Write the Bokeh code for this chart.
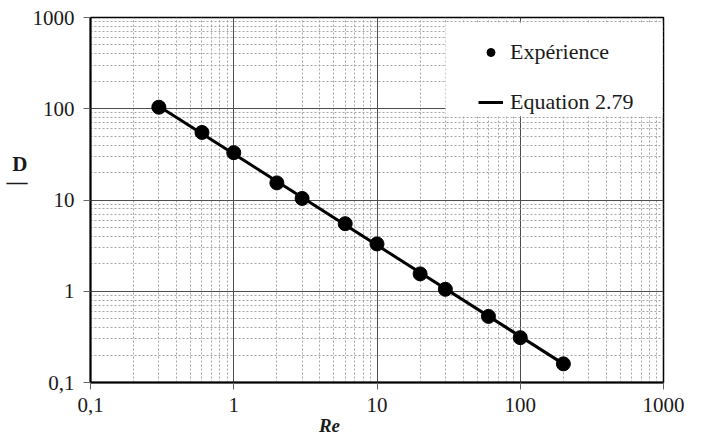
from bokeh.plotting import figure
from bokeh.models import FixedTicker, Legend, LegendItem, BoxAnnotation
from bokeh.embed import file_html
from bokeh.resources import INLINE

# data
re_exp = [0.3, 0.6, 1, 2, 3, 6, 10, 20, 30, 60, 100, 200]
cd_exp = [104, 55, 33, 15.4, 10.4, 5.5, 3.3, 1.55, 1.05, 0.53, 0.31, 0.16]
re_eq = [0.3, 200]
cd_eq = [106.7, 0.16]
x_ticks = [0.1, 1, 10, 100, 1000]
x_tick_labels = ["0,1", "1", "10", "100", "1000"]
y_ticks = [0.1, 1, 10, 100, 1000]
y_tick_labels = ["0,1", "1", "10", "100", "1000"]

FONT = "Liberation Serif"
TXT = "#1a1a1a"
NB = "\u00a0"

p = figure(width=702, height=438, x_axis_type="log", y_axis_type="log",
           x_range=(0.1, 1000), y_range=(0.1, 1000),
           output_backend="svg", toolbar_location=None,
           min_border_left=90, min_border_right=39, min_border_top=17, min_border_bottom=55)
p.outline_line_color = "black"
p.outline_line_width = 1.5
p.background_fill_color = "white"
p.border_fill_color = "white"

for ax, ticks, labels in ((p.xaxis[0], x_ticks, x_tick_labels), (p.yaxis[0], y_ticks, y_tick_labels)):
    ax.ticker = FixedTicker(ticks=ticks, minor_ticks=[m * 10 ** e for e in range(-1, 3) for m in range(2, 10)])
    ax.major_label_overrides = {t: l for t, l in zip(ticks, labels)}
    ax.major_label_text_font = FONT
    ax.major_label_text_font_size = "21px"
    ax.major_label_text_color = TXT
    ax.axis_line_color = "black"
    ax.axis_line_width = 2
    ax.major_tick_line_color = "#666666"
    ax.major_tick_out = 7
    ax.major_tick_in = 0
    ax.minor_tick_line_color = None

p.xaxis.major_label_standoff = 8
p.yaxis.major_label_standoff = 9

# axis titles
p.xaxis.axis_label = "Re" + NB * 20
p.xaxis.axis_label_text_font = FONT
p.xaxis.axis_label_text_font_style = "bold italic"
p.xaxis.axis_label_text_font_size = "19px"
p.xaxis.axis_label_text_color = TXT
p.xaxis.axis_label_standoff = 0

p.yaxis.axis_label = "D\n\u2014\n" + NB + "\n" + NB + "\n" + NB
p.yaxis.axis_label_orientation = "horizontal"
p.yaxis.axis_label_text_font = FONT
p.yaxis.axis_label_text_font_style = "bold"
p.yaxis.axis_label_text_font_size = "21px"
p.yaxis.axis_label_text_line_height = 0.75
p.yaxis.axis_label_text_color = TXT
p.yaxis.axis_label_standoff = 2

for g in (p.xgrid[0], p.ygrid[0]):
    g.grid_line_color = "#4d4d4d"
    g.grid_line_width = 1
    g.minor_grid_line_color = "#a6a6a6"
    g.minor_grid_line_dash = "2 2"
    g.minor_grid_line_width = 1

line = p.line(re_eq, cd_eq, line_color="black", line_width=3)
pts = p.scatter(re_exp, cd_exp, size=14, fill_color="black", line_color="black")

# white legend panel
p.add_layout(BoxAnnotation(left=30.1, right=984, bottom=82.8, top=881,
                           fill_color="white", fill_alpha=1, line_color=None))

legend = Legend(items=[LegendItem(label="Expérience", renderers=[pts]),
                       LegendItem(label="Equation 2.79", renderers=[line])],
                location="top_right", background_fill_alpha=0,
                border_line_color=None, label_text_font=FONT, label_text_font_size="22px",
                label_text_color=TXT, spacing=24, padding=26, margin=22,
                glyph_width=25, glyph_height=20, label_height=20, label_width=131,
                label_standoff=7)
p.add_layout(legend)

open("out.html", "w").write(file_html(p, INLINE))
